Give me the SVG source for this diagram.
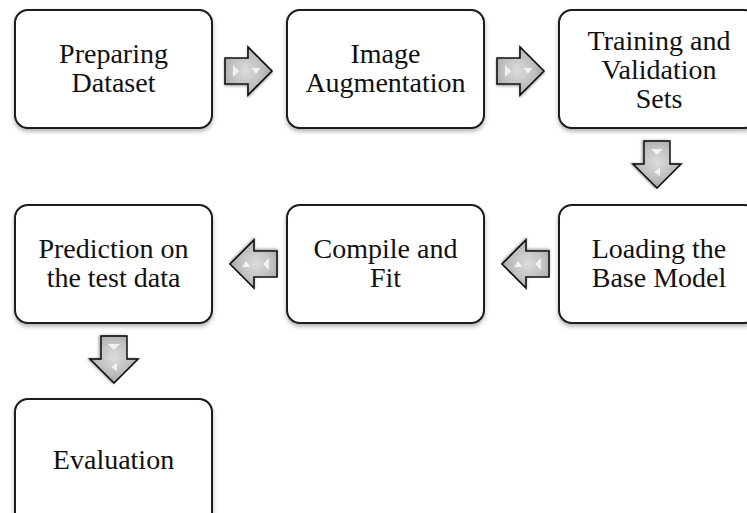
<svg xmlns="http://www.w3.org/2000/svg" width="747" height="513" viewBox="0 0 747 513">
  <style>
    .box { fill: #ffffff; stroke: #1a1a1a; stroke-width: 2; filter: url(#shadow); }
    .lbl { font-family: "Liberation Serif", "Times New Roman", serif; font-size: 28px; fill: #111111; text-anchor: middle; }
    .arrow { fill: url(#arrowFill); stroke: #111111; stroke-width: 1.6; stroke-linejoin: miter; filter: url(#ashadow); }
    .gloss { fill: #ffffff; opacity: 0.75; }
  </style>
  <defs>
    <filter id="shadow" x="-10%" y="-10%" width="120%" height="125%">
      <feDropShadow dx="0" dy="2.5" stdDeviation="2" flood-color="#000000" flood-opacity="0.3"/>
    </filter>
    <filter id="ashadow" x="-20%" y="-20%" width="140%" height="140%">
      <feDropShadow dx="0" dy="1.5" stdDeviation="1.2" flood-color="#000000" flood-opacity="0.35"/>
    </filter>
    <radialGradient id="arrowFill" cx="0.45" cy="0.5" r="0.6">
      <stop offset="0" stop-color="#dcdcdc"/>
      <stop offset="0.6" stop-color="#bebebe"/>
      <stop offset="1" stop-color="#a0a0a0"/>
    </radialGradient>
    <!-- block arrow pointing right, origin at left/centre -->
    <g id="blockArrow">
      <path class="arrow" d="M0,-13 H23 V-24 L47,0 L23,24 V13 H0 Z"/>
      <path class="gloss" d="M8,-6 L14,0 L8,6 Z"/>
      <path class="gloss" d="M27,-3 H35 L31,3 Z"/>
    </g>
  </defs>

  <!-- nodes -->
  <g id="node-preparing">
    <rect class="box" x="15" y="10" width="197" height="118" rx="13"/>
    <text class="lbl" x="113.5" y="63">Preparing</text>
    <text class="lbl" x="113.5" y="92">Dataset</text>
  </g>
  <g id="node-augmentation">
    <rect class="box" x="287" y="10" width="197" height="118" rx="13"/>
    <text class="lbl" x="385.5" y="63">Image</text>
    <text class="lbl" x="385.5" y="92">Augmentation</text>
  </g>
  <g id="node-sets">
    <rect class="box" x="559" y="10" width="198" height="118" rx="13"/>
    <text class="lbl" x="659" y="50">Training and</text>
    <text class="lbl" x="659" y="79">Validation</text>
    <text class="lbl" x="659" y="108">Sets</text>
  </g>
  <g id="node-base-model">
    <rect class="box" x="559" y="205" width="198" height="118" rx="13"/>
    <text class="lbl" x="659" y="258">Loading the</text>
    <text class="lbl" x="659" y="287">Base Model</text>
  </g>
  <g id="node-compile">
    <rect class="box" x="287" y="205" width="197" height="118" rx="13"/>
    <text class="lbl" x="385.5" y="258">Compile and</text>
    <text class="lbl" x="385.5" y="287">Fit</text>
  </g>
  <g id="node-prediction">
    <rect class="box" x="15" y="205" width="197" height="118" rx="13"/>
    <text class="lbl" x="113.5" y="258">Prediction on</text>
    <text class="lbl" x="113.5" y="287">the test data</text>
  </g>
  <g id="node-evaluation">
    <rect class="box" x="15" y="399" width="197" height="130" rx="13"/>
    <text class="lbl" x="113.5" y="469">Evaluation</text>
  </g>

  <!-- connectors -->
  <g id="connectors">
    <use href="#blockArrow" transform="translate(225,71)"/>
    <use href="#blockArrow" transform="translate(497,71)"/>
    <use href="#blockArrow" transform="translate(657,141) rotate(90)"/>
    <use href="#blockArrow" transform="translate(549,264) rotate(180)"/>
    <use href="#blockArrow" transform="translate(277,264) rotate(180)"/>
    <use href="#blockArrow" transform="translate(114,336) rotate(90)"/>
  </g>
</svg>
